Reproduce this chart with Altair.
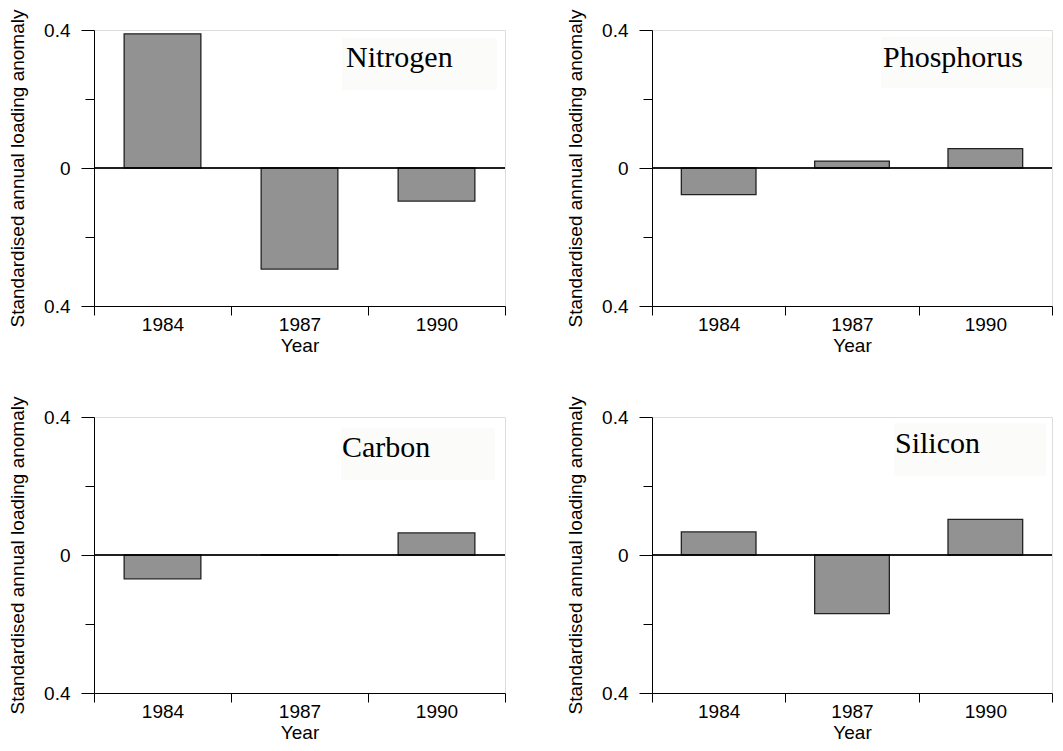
import altair as alt
import pandas as pd

years = ["1984", "1987", "1990"]
nitrogen = [0.389, -0.293, -0.096]
phosphorus = [-0.077, 0.020, 0.056]
carbon = [-0.069, 0.001, 0.064]
silicon = [0.067, -0.170, 0.103]

names = ["Nitrogen", "Phosphorus", "Carbon", "Silicon"]
series = [nitrogen, phosphorus, carbon, silicon]

# layout (pixels inside each plot area) for the element labels
label_box = {
    "Nitrogen": dict(x=248, x2=403, y=8, y2=60, tx=252, ty=37),
    "Phosphorus": dict(x=229, x2=400, y=7, y2=58, tx=231, ty=37),
    "Carbon": dict(x=247, x2=401, y=11, y2=63, tx=248, ty=40),
    "Silicon": dict(x=242, x2=394, y=6, y2=59, tx=243, ty=36),
}

FONT = "Liberation Sans"
H = 276


def panel(name, vals, width):
    df = pd.DataFrame({"Year": years, "value": vals})
    lab = pd.DataFrame({"label": [name]})
    b = label_box[name]
    x = alt.X(
        "Year:N",
        sort=years,
        scale=alt.Scale(paddingInner=0, paddingOuter=0),
        axis=alt.Axis(
            title="Year",
            labelAngle=0,
            tickBand="extent",
            tickSize=9,
            labelPadding=0,
            titlePadding=2,
            labelFontSize=19,
            titleFontSize=19,
            titleFontWeight="normal",
            labelFont=FONT,
            titleFont=FONT,
            labelColor="#000",
            titleColor="#000",
            domainColor="#000",
            tickColor="#000",
        ),
    )
    y = alt.Y(
        "value:Q",
        scale=alt.Scale(domain=[-0.4, 0.4], nice=False),
        axis=alt.Axis(
            title="Standardised annual loading anomaly",
            values=[-0.4, -0.2, 0, 0.2, 0.4],
            labelExpr="datum.value == 0 ? '0' : (abs(datum.value) > 0.3 ? '0.4' : '')",
            tickSize={"condition": {"test": "abs(abs(datum.value) - 0.2) < 0.01", "value": 9}, "value": 13},
            labelPadding=11,
            titlePadding=16,
            labelFontSize=19,
            titleFontSize=19,
            titleFontWeight="normal",
            labelFont=FONT,
            titleFont=FONT,
            labelColor="#000",
            titleColor="#000",
            domainColor="#000",
            tickColor="#000",
            grid=False,
            labelOverlap=False,
        ),
    )
    box = alt.Chart(lab).mark_rect(color="#fbfbf9").encode(
        x=alt.value(b["x"]), x2=alt.value(b["x2"]), y=alt.value(b["y"]), y2=alt.value(b["y2"])
    )
    txt = alt.Chart(lab).mark_text(
        font="Liberation Serif", fontSize=30, align="left", baseline="alphabetic", color="#000"
    ).encode(x=alt.value(b["tx"]), y=alt.value(b["ty"]), text="label:N")
    bars = alt.Chart(df).mark_bar(
        width=alt.RelativeBandSize(0.56), color="#929292", stroke="#222", strokeWidth=1.3
    ).encode(x=x, y=y)
    zero = alt.Chart(df).mark_rule(color="#000", strokeWidth=1).encode(y=alt.datum(0))
    return alt.layer(box, txt, bars, zero).properties(width=width, height=H)


p = [panel(n, v, w) for n, v, w in zip(names, series, [411, 400, 411, 400])]

chart = alt.vconcat(
    alt.hconcat(p[0], p[1], spacing=60),
    alt.hconcat(p[2], p[3], spacing=60),
    spacing=39,
).properties(
    padding={"left": 0, "top": 0, "right": 0, "bottom": 0}
).configure_view(stroke="#000", strokeWidth=1).configure(background="white")

chart.save("out.html", embed_options={"renderer": "svg", "actions": False})
